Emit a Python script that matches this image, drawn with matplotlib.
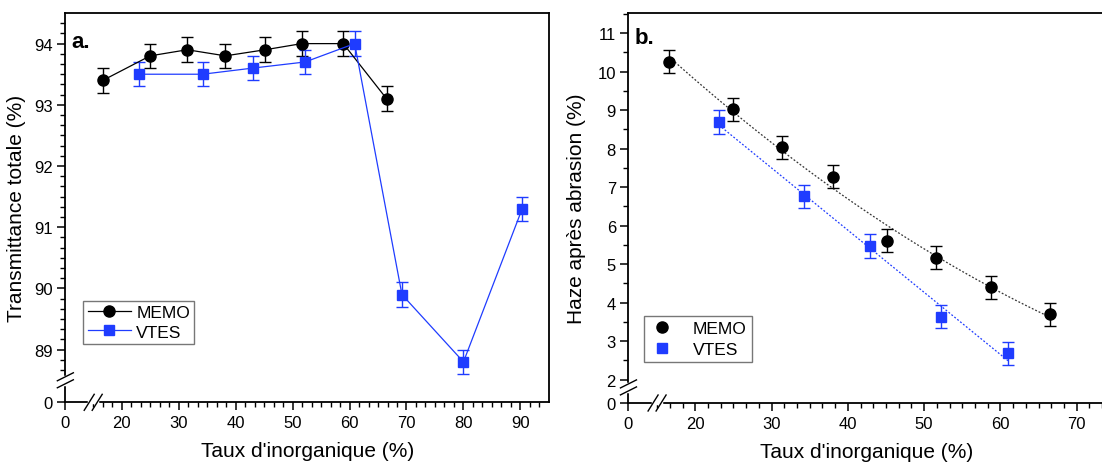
import numpy as np
import matplotlib
matplotlib.use("Agg")
import matplotlib.pyplot as plt
from matplotlib.ticker import FixedLocator, NullFormatter

plt.rcParams['font.family'] = ['Liberation Sans', 'DejaVu Sans']

# panel a : transmittance totale
memo_x_a = [16.7, 25.0, 31.5, 38.2, 45.2, 51.6, 58.9, 66.5]
memo_t = [93.4, 93.8, 93.9, 93.8, 93.9, 94.0, 94.0, 93.1]
memo_t_err = [0.2, 0.2, 0.2, 0.2, 0.2, 0.2, 0.2, 0.2]
vtes_x_a = [23.1, 34.2, 43.0, 52.2, 60.9, 69.2, 80.0, 90.3]
vtes_t = [93.5, 93.5, 93.6, 93.7, 94.0, 89.9, 88.8, 91.3]
vtes_t_err = [0.2, 0.2, 0.2, 0.2, 0.2, 0.2, 0.2, 0.2]

# panel b : haze apres abrasion
memo_x_b = [16.6, 25.0, 31.4, 38.1, 45.1, 51.6, 58.8, 66.5]
memo_h = [10.26, 9.02, 8.03, 7.27, 5.61, 5.17, 4.40, 3.70]
memo_h_err = [0.3, 0.3, 0.3, 0.3, 0.3, 0.3, 0.3, 0.3]
vtes_x_b = [23.1, 34.2, 42.9, 52.2, 61.0]
vtes_h = [8.69, 6.76, 5.47, 3.64, 2.69]
vtes_h_err = [0.3, 0.3, 0.3, 0.3, 0.3]

BLUE = '#1f3cff'


def broken(b, s):
    # compress everything below b by factor s (axis break)
    def fwd(v):
        v = np.asarray(v, dtype=float)
        return np.where(v < b, b - (b - v) * s, v)

    def inv(v):
        v = np.asarray(v, dtype=float)
        return np.where(v < b, b - (b - v) / s, v)
    return fwd, inv


def x_break(ax, xb):
    fig = ax.figure
    x0, _ = ax.transData.transform((xb, ax.get_ylim()[0]))
    y0 = ax.get_window_extent().y0
    inv = fig.transFigure.inverted()
    pw = inv.transform([(x0 - 4, y0), (x0 + 4, y0)])
    fig.add_artist(plt.Line2D(pw[:, 0], pw[:, 1], color='white', lw=2.5, zorder=10))
    for o in (-4, 4):
        p = inv.transform([(x0 + o - 5, y0 - 8), (x0 + o + 5, y0 + 8)])
        fig.add_artist(plt.Line2D(p[:, 0], p[:, 1], color='black', lw=1.0, zorder=11))


def y_break(ax, yb):
    fig = ax.figure
    _, y0 = ax.transData.transform((ax.get_xlim()[0], yb))
    x0 = ax.get_window_extent().x0
    inv = fig.transFigure.inverted()
    pw = inv.transform([(x0, y0 - 3.5), (x0, y0 + 3.5)])
    fig.add_artist(plt.Line2D(pw[:, 0], pw[:, 1], color='white', lw=2.5, zorder=10))
    for o in (-3.5, 3.5):
        p = inv.transform([(x0 - 8, y0 + o - 4), (x0 + 8, y0 + o + 4)])
        fig.add_artist(plt.Line2D(p[:, 0], p[:, 1], color='black', lw=1.0, zorder=11))


def style(ax):
    for sp in ax.spines.values():
        sp.set_linewidth(1.3)
    ax.tick_params(which='major', direction='out', length=6, width=1.1, labelsize=12, pad=3)
    ax.tick_params(which='minor', direction='out', length=3.5, width=1.0)
    ax.tick_params(top=False, right=False)


fig = plt.figure(figsize=(11.02, 4.64), dpi=100)
ax1 = fig.add_axes([0.0593, 0.1308, 0.4388, 0.839])
ax2 = fig.add_axes([0.5703, 0.1293, 0.4317, 0.8405])

# ----- panel a -----
fx, ix = broken(15, 0.326)
fy, iy = broken(88.5, 0.00407)
ax1.set_xscale('function', functions=(fx, ix))
ax1.set_yscale('function', functions=(fy, iy))
eb1 = ax1.errorbar(memo_x_a, memo_t, yerr=memo_t_err, color='black', marker='o', ms=8,
                   lw=0.9, elinewidth=1.0, capsize=4, capthick=1.0, zorder=3)
eb2 = ax1.errorbar(vtes_x_a, vtes_t, yerr=vtes_t_err, color=BLUE, marker='s', ms=7,
                   lw=0.9, elinewidth=1.0, capsize=4, capthick=1.0, zorder=3)
ax1.set_xlim(0, 95)
ax1.set_ylim(0, 94.5)
ax1.xaxis.set_major_locator(FixedLocator([0, 20, 30, 40, 50, 60, 70, 80, 90]))
ax1.xaxis.set_minor_locator(FixedLocator(np.arange(20 - 10 / 6 * 3, 95, 10 / 6)))
ax1.yaxis.set_major_locator(FixedLocator([0, 89, 90, 91, 92, 93, 94]))
ax1.yaxis.set_minor_locator(FixedLocator(np.arange(89 - 2 / 6, 94.5, 1 / 6)))
ax1.xaxis.set_minor_formatter(NullFormatter())
ax1.yaxis.set_minor_formatter(NullFormatter())
ax1.set_xlabel("Taux d'inorganique (%)", fontsize=15, labelpad=8)
ax1.set_ylabel('Transmittance totale (%)', fontsize=15, labelpad=6)
style(ax1)
ax1.text(0.012, 0.955, 'a.', transform=ax1.transAxes, fontsize=16, fontweight='bold', va='top')
ax1.legend([eb1[0], eb2[0]], ['MEMO', 'VTES'], loc='lower left', bbox_to_anchor=(0.037, 0.15),
           fontsize=12.5, frameon=True, fancybox=False, edgecolor='#555555', handlelength=2.5,
           borderpad=0.25, labelspacing=0.25, handletextpad=0.3, borderaxespad=0)

# ----- panel b -----
fx2, ix2 = broken(15, 0.25)
fy2, iy2 = broken(1.8, 0.225)
ax2.set_xscale('function', functions=(fx2, ix2))
ax2.set_yscale('function', functions=(fy2, iy2))

# fits through the data
c_memo = np.polyfit(memo_x_b, memo_h, 2)
c_vtes = np.polyfit(vtes_x_b, vtes_h, 1)
xm = np.linspace(min(memo_x_b), max(memo_x_b), 100)
xv = np.linspace(min(vtes_x_b), max(vtes_x_b), 100)
ax2.plot(xm, np.polyval(c_memo, xm), ls=(0, (1.5, 1.5)), color='#333333', lw=0.9, zorder=2)
ax2.plot(xv, np.polyval(c_vtes, xv), ls=(0, (1.5, 1.5)), color=BLUE, lw=0.9, zorder=2)

eb3 = ax2.errorbar(memo_x_b, memo_h, yerr=memo_h_err, color='black', marker='o', ms=8,
                   ls='none', elinewidth=1.0, capsize=4, capthick=1.0, zorder=3)
eb4 = ax2.errorbar(vtes_x_b, vtes_h, yerr=vtes_h_err, color=BLUE, marker='s', ms=7,
                   ls='none', elinewidth=1.0, capsize=4, capthick=1.0, zorder=3)
ax2.set_xlim(0, 73.6)
ax2.set_ylim(0, 11.52)
ax2.xaxis.set_major_locator(FixedLocator([0, 20, 30, 40, 50, 60, 70]))
ax2.xaxis.set_minor_locator(FixedLocator(np.arange(20 - 10 / 6 * 3, 74, 10 / 6)))
ax2.yaxis.set_major_locator(FixedLocator([0, 2, 3, 4, 5, 6, 7, 8, 9, 10, 11]))
ax2.yaxis.set_minor_locator(FixedLocator(np.arange(2, 11.6, 0.5)))
ax2.xaxis.set_minor_formatter(NullFormatter())
ax2.yaxis.set_minor_formatter(NullFormatter())
ax2.set_xlabel("Taux d'inorganique (%)", fontsize=15, labelpad=8)
ax2.set_ylabel('Haze après abrasion (%)', fontsize=15, labelpad=8)
style(ax2)
ax2.text(0.012, 0.965, 'b.', transform=ax2.transAxes, fontsize=16, fontweight='bold', va='top')
ax2.legend([eb3[0], eb4[0]], ['MEMO', 'VTES'], loc='lower left', bbox_to_anchor=(0.033, 0.105),
           fontsize=12.5, frameon=True, fancybox=False, edgecolor='#555555', handlelength=1.5,
           borderpad=0.3, labelspacing=0.3, handletextpad=1.0, borderaxespad=0)

fig.canvas.draw()
x_break(ax1, 15)
y_break(ax1, 88.5)
x_break(ax2, 15)
y_break(ax2, 1.8)

fig.savefig('out.png', dpi=100)
